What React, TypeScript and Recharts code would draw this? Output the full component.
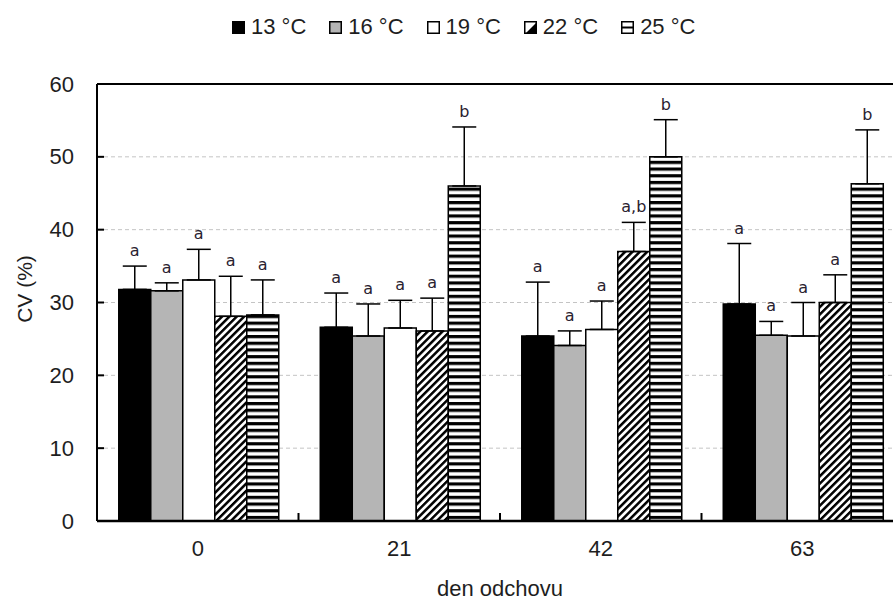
import {
  BarChart, Bar, XAxis, YAxis, CartesianGrid, ErrorBar, LabelList, ReferenceLine,
} from 'recharts';

// Rearing day on the x axis, one bar per temperature
const DAYS = ['0', '21', '42', '63'];

const CV_13 = [31.8, 26.6, 25.4, 29.8];
const SD_13 = [3.2, 4.7, 7.4, 8.3];
const SIG_13 = ['a', 'a', 'a', 'a'];

const CV_16 = [31.6, 25.4, 24.1, 25.5];
const SD_16 = [1.1, 4.4, 2.0, 1.9];
const SIG_16 = ['a', 'a', 'a', 'a'];

const CV_19 = [33.1, 26.5, 26.3, 25.4];
const SD_19 = [4.2, 3.8, 3.9, 4.6];
const SIG_19 = ['a', 'a', 'a', 'a'];

const CV_22 = [28.1, 26.1, 37.0, 30.0];
const SD_22 = [5.5, 4.5, 4.0, 3.8];
const SIG_22 = ['a', 'a', 'a,b', 'a'];

const CV_25 = [28.3, 46.0, 50.0, 46.3];
const SD_25 = [4.8, 8.1, 5.1, 7.4];
const SIG_25 = ['a', 'b', 'b', 'b'];

const Y_TICKS = [0, 10, 20, 30, 40, 50, 60];

// Layout
const CHART_W = 920;
const CHART_H = 601;
const PLOT_LEFT = 97;
const PLOT_TOP = 84;
const PLOT_RIGHT_PAD = 17;
const X_AXIS_H = 80;
const PLOT_BOTTOM = CHART_H - X_AXIS_H;
const BAND = (CHART_W - PLOT_RIGHT_PAD - PLOT_LEFT) / DAYS.length;

const FONT = "'Liberation Sans', Arial, sans-serif";
const INK = '#1e1e1e';

interface Series {
  key: string;
  name: string;
  cv: number[];
  sd: number[];
  sig: string[];
  fill: string;
}

const SERIES: Series[] = [
  { key: 't13', name: '13 °C', cv: CV_13, sd: SD_13, sig: SIG_13, fill: '#000' },
  { key: 't16', name: '16 °C', cv: CV_16, sd: SD_16, sig: SIG_16, fill: '#b5b5b5' },
  { key: 't19', name: '19 °C', cv: CV_19, sd: SD_19, sig: SIG_19, fill: '#fff' },
  { key: 't22', name: '22 °C', cv: CV_22, sd: SD_22, sig: SIG_22, fill: 'url(#hatch22)' },
  { key: 't25', name: '25 °C', cv: CV_25, sd: SD_25, sig: SIG_25, fill: 'url(#stripe25)' },
];

const data = DAYS.map((day, i) => {
  const row: Record<string, unknown> = { day };
  SERIES.forEach((s) => {
    row[s.key] = s.cv[i];
    row[`${s.key}Err`] = [0, s.sd[i]]; // upper whisker only
    row[`${s.key}Sig`] = s.sig[i];
  });
  return row;
});

function YTick({ y, payload }: any) {
  return (
    <g>
      <line x1={PLOT_LEFT} x2={PLOT_LEFT + 7} y1={y} y2={y} stroke="#000" strokeWidth={2} />
      <text x={PLOT_LEFT - 23} y={y} dy={7.5} textAnchor="end" fontSize={22} fontFamily={FONT} fill={INK}>
        {payload.value}
      </text>
    </g>
  );
}

function XTick({ x, payload, index }: any) {
  return (
    <g>
      {index < DAYS.length - 1 && (
        <line x1={x + BAND / 2} x2={x + BAND / 2} y1={PLOT_BOTTOM} y2={PLOT_BOTTOM - 8} stroke="#000" strokeWidth={2} />
      )}
      <text x={x} y={PLOT_BOTTOM + 35} textAnchor="middle" fontSize={22} fontFamily={FONT} fill={INK}>
        {payload.value}
      </text>
    </g>
  );
}

// Significance letter sits just above the error bar cap
function sigLabel(s: Series) {
  return (props: any) => {
    const { index, value } = props;
    const x = Number(props.x);
    const y = Number(props.y);
    const w = Number(props.width);
    const h = Number(props.height);
    const perUnit = h / s.cv[index];
    const capY = y - s.sd[index] * perUnit;
    return (
      <text x={x + w / 2} y={capY - 10} textAnchor="middle" fontSize={16}
        fontFamily="'DejaVu Sans', Verdana, sans-serif" fill="#2a2230">
        {value}
      </text>
    );
  };
}

function Swatch({ kind, fill }: { kind: string; fill: string }) {
  return (
    <svg width={13} height={13} style={{ display: 'block' }}>
      <rect x={0.75} y={0.75} width={11.5} height={11.5} fill={fill} stroke="#000" strokeWidth={1.5} />
      {kind === 't22' && <polygon points="12,2 12,12 2,12" fill="#000" />}
      {kind === 't25' && <line x1={1} x2={12} y1={6.5} y2={6.5} stroke="#000" strokeWidth={2} />}
    </svg>
  );
}

function TopLegend() {
  return (
    <div style={{
      position: 'absolute', left: 232, top: 14, height: 26,
      display: 'flex', alignItems: 'center',
      fontFamily: FONT, fontSize: 22, color: INK,
    }}>
      {SERIES.map((s) => (
        <div key={s.key} style={{ display: 'flex', alignItems: 'center', marginRight: 23 }}>
          <Swatch kind={s.key} fill={s.key === 't22' || s.key === 't25' ? '#fff' : s.fill} />
          <span style={{ marginLeft: 6 }}>{s.name}</span>
        </div>
      ))}
    </div>
  );
}

export default function App() {
  return (
    <div style={{
      position: 'absolute', left: 0, top: 0, width: 893, height: 601,
      overflow: 'hidden', background: '#fff',
    }}>
      <BarChart
        width={CHART_W}
        height={CHART_H}
        data={data}
        margin={{ top: PLOT_TOP, right: PLOT_RIGHT_PAD, bottom: 0, left: 0 }}
        barCategoryGap="10.8%"
        barGap={0}
      >
        <defs>
          <pattern id="hatch22" patternUnits="userSpaceOnUse" width={5.2} height={5.2} patternTransform="rotate(45)">
            <rect width={5.2} height={5.2} fill="#fff" />
            <rect width={2.5} height={5.2} fill="#000" />
          </pattern>
          <pattern id="stripe25" patternUnits="userSpaceOnUse" width={10} height={6.7}>
            <rect width={10} height={6.7} fill="#fff" />
            <rect width={10} height={3.2} fill="#000" />
          </pattern>
        </defs>

        <CartesianGrid vertical={false} stroke="#c4c4c4" strokeDasharray="4 3" />

        <XAxis
          dataKey="day"
          height={X_AXIS_H}
          axisLine={{ stroke: '#000', strokeWidth: 2.5 }}
          tickLine={false}
          tick={<XTick />}
          interval={0}
          label={{
            content: () => (
              <text x={PLOT_LEFT + (CHART_W - PLOT_RIGHT_PAD - PLOT_LEFT) / 2} y={596}
                textAnchor="middle" fontSize={22} fontFamily={FONT} fill={INK}>
                den odchovu
              </text>
            ),
          }}
        />
        <YAxis
          width={PLOT_LEFT}
          domain={[0, 60]}
          ticks={Y_TICKS}
          interval={0}
          axisLine={{ stroke: '#000', strokeWidth: 2 }}
          tickLine={false}
          tick={<YTick />}
          label={{
            content: () => (
              <text transform="translate(32, 289) rotate(-90)" textAnchor="middle"
                fontSize={21} fontFamily={FONT} fill={INK}>
                CV (%)
              </text>
            ),
          }}
        />

        <ReferenceLine y={60} stroke="#000" strokeWidth={2} />

        {SERIES.map((s) => (
          <Bar key={s.key} dataKey={s.key} name={s.name} fill={s.fill}
            stroke="#000" strokeWidth={1.5} isAnimationActive={false}>
            <ErrorBar dataKey={`${s.key}Err`} direction="y" width={12} stroke="#000" strokeWidth={1.5} />
            <LabelList dataKey={`${s.key}Sig`} content={sigLabel(s)} />
          </Bar>
        ))}
      </BarChart>
      <TopLegend />
    </div>
  );
}
